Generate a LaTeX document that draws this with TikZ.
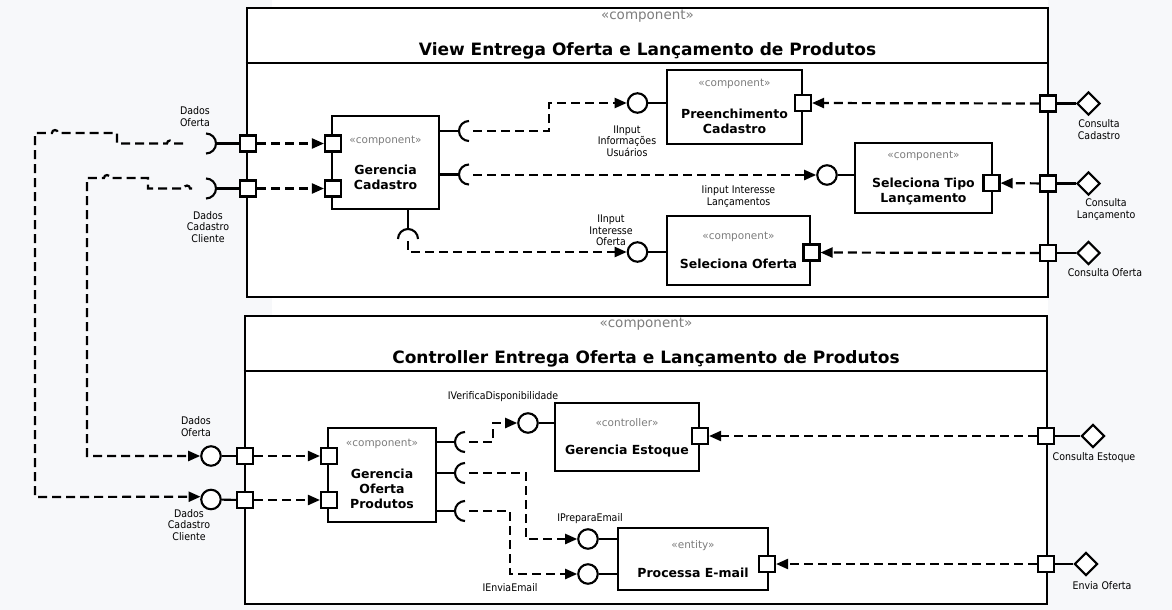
\documentclass[tikz,border=0pt]{standalone}
\usepackage{fontspec}
\setmainfont{DejaVu Sans}
\newfontfamily\lbfam[FakeStretch=0.9]{DejaVu Sans}
\usetikzlibrary{arrows.meta,shapes.geometric}
\definecolor{bgc}{RGB}{247,248,250}
\definecolor{stc}{RGB}{125,125,125}
\newcommand\lbfont{\lbfam\fontsize{10.5}{11.4}\selectfont}
\newcommand\nmfont{\bfseries\fontsize{12.5}{15}\selectfont}
\newcommand\stfont{\fontsize{10.5}{12}\selectfont}
\newcommand\hdfont{\fontsize{13.5}{16}\selectfont}
\newcommand\ttlfont{\bfseries\fontsize{17}{20}\selectfont}
\begin{document}
\begin{tikzpicture}[x=1pt,y=-1pt,
  cont/.style={draw, line width=2.6pt, fill=white, inner sep=0},
  comp/.style={draw, line width=2.2pt, fill=white, inner sep=0},
  port/.style={draw, line width=2.1pt, fill=white, minimum size=16pt, inner sep=0},
  ball/.style={circle, draw, line width=2.1pt, fill=white, minimum size=19.5pt, inner sep=0},
  dia/.style={diamond, draw, line width=2.1pt, fill=white, minimum width=23pt, minimum height=23pt, inner sep=0},
  dl/.style={line width=2.2pt, dash pattern=on 9pt off 5pt},
  dep/.style={dl, -{Triangle[length=12pt,width=10pt]}},
  sol/.style={line width=2.1pt},
  ster/.style={text=stc, font=\stfont, inner sep=0},
  hster/.style={text=stc, font=\hdfont, inner sep=0},
  ttl/.style={font=\ttlfont, inner sep=0},
  nm/.style={font=\nmfont, align=center, inner sep=0},
  lbl/.style={font=\lbfont, align=center, inner sep=0},
]
\useasboundingbox (0,0) rectangle (1172,610);
\fill[bgc] (0,0) rectangle (1172,610);
\fill[white] (272,0) rectangle (1048,604);

%================ VIEW container =================
\node[cont, minimum width=801pt, minimum height=289pt] (view) at (647.5,152.5) {};
\draw[line width=2.6pt] (view.west |- 0,63) -- (view.east |- 0,63);
\node[hster] (viewst) at (647.5,16) {«component»};
\node[ttl] (viewtt) at (647.5,51) {View Entrega Oferta e Lançamento de Produtos};

% Gerencia Cadastro
\node[comp, minimum width=107pt, minimum height=93pt] (gcbox) at (385.5,162.5) {};
\node[ster] (gcst) at (385.5,141) {«component»};
\node[nm] (gcnm) at (385.5,177.5) {Gerencia\\Cadastro};
\node[port] (gcp1) at (333,143.5) {};
\node[port] (gcp2) at (333,188.5) {};
\coordinate (gcs1) at (459,131);
\coordinate (gcs2) at (459,174.5);
\coordinate (gcs3) at (408,229);
\draw[sol] (gcbox.east |- gcs1) -- (gcs1);
\draw[sol] ([shift={(10pt,10pt)}]gcs1) arc[start angle=90,end angle=270,radius=10pt];
\draw[sol] (gcbox.east |- gcs2) -- (gcs2);
\draw[sol] ([shift={(10pt,10pt)}]gcs2) arc[start angle=90,end angle=270,radius=10pt];
\draw[sol] (gcbox.south -| gcs3) -- (gcs3);
\draw[sol] ([shift={(-10pt,-10pt)}]gcs3) arc[start angle=180,end angle=0,radius=10pt];
\coordinate (gco1) at (473,131);
\coordinate (gco2) at (473,175);
\coordinate (gco3) at (408,241);

% Preenchimento Cadastro
\node[comp, minimum width=135pt, minimum height=74pt] (pcbox) at (734.5,107) {};
\node[ster] (pcst) at (734.5,84) {«component»};
\node[nm] (pcnm) at (734.5,121) {Preenchimento\\Cadastro};
\node[port] (pcp) at (803,103) {};
\node[ball] (pcb) at (637.5,103) {};
\draw[sol] (pcb) -- (pcbox.west |- pcb);
\coordinate (j1) at (549,103);
\draw[dep] (gco1) -| (j1) -- (pcb);
\node[lbl] (pclb) at (627,141) {IInput\\Informações\\Usuários};

% Seleciona Tipo Lancamento
\node[comp, minimum width=137pt, minimum height=70pt] (stbox) at (923.5,178) {};
\node[ster] (stst) at (923.5,156) {«component»};
\node[nm] (stnm) at (923.5,191.5) {Seleciona Tipo\\Lançamento};
\node[port] (stp) at (991.5,183) {};
\node[ball] (stb) at (827,175) {};
\draw[sol] (stb) -- (stbox.west |- stb);
\draw[dep] (gco2) -- (stb);
\node[lbl] (stlb) at (738.5,196.5) {Iinput Interesse\\Lançamentos};

% Seleciona Oferta
\node[comp, minimum width=143pt, minimum height=69pt] (sobox) at (738.5,250.5) {};
\node[ster] (sost) at (738.5,236.5) {«component»};
\node[nm] (sonm) at (738.5,263.5) {Seleciona Oferta};
\node[port] (sop) at (811.5,252.5) {};
\node[ball] (sob) at (637.5,252) {};
\draw[sol] (sob) -- (sobox.west |- sob);
\draw[dep] (gco3) |- (sob);
\node[lbl] (solb) at (611,230.5) {IInput\\Interesse\\Oferta};

% right boundary ports (view)
\node[port] (vr1) at (1048,103.5) {};
\node[port] (vr2) at (1048,183.5) {};
\node[port] (vr3) at (1048,253) {};
\node[dia] (vd1) at (1088.5,103.5) {};
\node[dia] (vd2) at (1088.5,183.5) {};
\node[dia] (vd3) at (1088.5,253) {};
\draw[sol] (vr1) -- (vd1);
\draw[sol] (vr2) -- (vd2);
\draw[sol] (vr3) -- (vd3);
\draw[dep] (vr1) -- (pcp);
\draw[dep] (vr2) -- (stp);
\draw[dep] (vr3) -- (sop);
\node[lbl] (vd1lb) at (1099,129.5) {Consulta\\Cadastro};
\node[lbl] (vd2lb) at (1106,209.5) {Consulta\\Lançamento};
\node[lbl] (vd3lb) at (1105,273) {Consulta Oferta};

% left boundary ports (view)
\node[port] (vl1) at (248,143.5) {};
\node[port] (vl2) at (248,188.5) {};
\coordinate (vls1) at (216,143.5);
\coordinate (vls2) at (216,188.5);
\draw[sol] (vl1) -- (vls1);
\draw[sol] (vl2) -- (vls2);
\draw[sol] ([shift={(-10pt,10pt)}]vls1) arc[start angle=90,end angle=-90,radius=10pt];
\draw[sol] ([shift={(-10pt,10pt)}]vls2) arc[start angle=90,end angle=-90,radius=10pt];
\draw[dep] (vl1) -- (gcp1);
\draw[dep] (vl2) -- (gcp2);
\node[lbl] (vl1lb) at (195,116.5) {Dados\\Oferta};
\node[lbl] (vl2lb) at (208,227) {Dados\\Cadastro\\Cliente};

%================ CONTROLLER container =================
\node[cont, minimum width=802pt, minimum height=288pt] (ctrl) at (646,460) {};
\draw[line width=2.6pt] (ctrl.west |- 0,371) -- (ctrl.east |- 0,371);
\node[hster] (ctrlst) at (646,324) {«component»};
\node[ttl] (ctrltt) at (646,359) {Controller Entrega Oferta e Lançamento de Produtos};

% Gerencia Oferta Produtos
\node[comp, minimum width=108pt, minimum height=94pt] (gobox) at (382,475) {};
\node[ster] (gost) at (382,444) {«component»};
\node[nm] (gonm) at (382,489) {Gerencia\\Oferta\\Produtos};
\node[port] (gop1) at (329,456) {};
\node[port] (gop2) at (329,500) {};
\coordinate (gos1) at (455,442);
\coordinate (gos2) at (455,473);
\coordinate (gos3) at (455,511);
\foreach \s in {gos1,gos2,gos3}{
  \draw[sol] (gobox.east |- \s) -- (\s);
  \draw[sol] ([shift={(10pt,10pt)}]\s) arc[start angle=90,end angle=270,radius=10pt];
}
\coordinate (goo1) at (469,442);
\coordinate (goo2) at (469,473);
\coordinate (goo3) at (469,511);

% Gerencia Estoque
\node[comp, minimum width=144pt, minimum height=68pt] (gebox) at (627,437) {};
\node[ster] (gest) at (627,423) {«controller»};
\node[nm] (genm) at (627,451) {Gerencia Estoque};
\node[port] (gep) at (700,436) {};
\node[ball] (geb) at (528,423) {};
\draw[sol] (geb) -- (gebox.west |- geb);
\coordinate (jb1) at (493,423);
\draw[dep] (goo1) -| (jb1) -- (geb);
\node[lbl] (geblb) at (503,396.5) {IVerificaDisponibilidade};

% Processa E-mail
\node[comp, minimum width=150pt, minimum height=62pt] (pebox) at (693,559) {};
\node[ster] (pest) at (693,545.5) {«entity»};
\node[nm] (penm) at (693,573) {Processa E-mail};
\node[port] (pep) at (767,564) {};
\node[ball] (peb1) at (588,539) {};
\node[ball] (peb2) at (588,574) {};
\draw[sol] (peb1) -- (pebox.west |- peb1);
\draw[sol] (peb2) -- (pebox.west |- peb2);
\coordinate (jb2) at (526,539);
\coordinate (jb3) at (510,574);
\draw[dep] (goo2) -| (jb2) -- (peb1);
\draw[dep] (goo3) -| (jb3) -- (peb2);
\node[lbl] (peb1lb) at (590,519) {IPreparaEmail};
\node[lbl] (peb2lb) at (510,588) {IEnviaEmail};

% right boundary (controller)
\node[port] (cr1) at (1046,436) {};
\node[port] (cr2) at (1046,564) {};
\node[dia] (cd1) at (1093,436) {};
\node[dia] (cd2) at (1086,564) {};
\draw[sol] (cr1) -- (cd1);
\draw[sol] (cr2) -- (cd2);
\draw[dep] (cr1) -- (gep);
\draw[dep] (cr2) -- (pep);
\node[lbl] (cd1lb) at (1094,458) {Consulta Estoque};
\node[lbl] (cd2lb) at (1102,586) {Envia Oferta};

% left boundary (controller)
\node[port] (cl1) at (245,456) {};
\node[port] (cl2) at (245,500) {};
\node[ball] (gob1) at (211,456) {};
\node[ball] (gob2) at (211,499.5) {};
\draw[sol] (gob1) -- (cl1);
\draw[sol] (gob2) -- (cl2);
\draw[dep] (cl1) -- (gop1);
\draw[dep] (cl2) -- (gop2);
\node[lbl] (gob1lb) at (196,426.5) {Dados\\Oferta};
\node[lbl] (gob2lb) at (189,525) {Dados\\Cadastro\\Cliente};

%================ long external connectors =================
\coordinate (la0) at (183,143.5);
\coordinate (lb0) at (192,188.5);
\draw[dep] (la0) -- (173,143.5) arc[start angle=0,end angle=180,radius=3pt]
  -- (117,143.5) -- (117,133) -- (58,133) arc[start angle=0,end angle=180,radius=3pt]
  -- (35,133) -- (35,497) -- (gob2.165);
\draw[dep] (lb0) -- (190,188.5) arc[start angle=0,end angle=180,radius=3pt]
  -- (148,188.5) -- (148,178) -- (110,178) arc[start angle=0,end angle=180,radius=3pt]
  -- (87,178) -- (87,456) -- (gob1);
\end{tikzpicture}
\end{document}
